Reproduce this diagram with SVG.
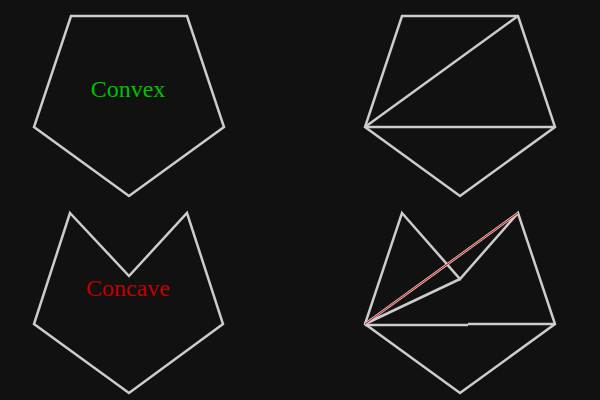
<svg xmlns="http://www.w3.org/2000/svg" width="600" height="400" viewBox="0 0 600 400">
<style>
.e{fill:none;stroke:#cccccc;stroke-width:2.5;stroke-linejoin:miter}
.t{font-family:"Liberation Serif",serif;font-size:24px;text-anchor:middle}
</style>
<rect width="600" height="400" fill="#111111"/>
<g id="convex">
<polygon class="e" points="71,16 187,16 224,127 129,196 34,127"/>
<text class="t" x="128" y="97" fill="#00c000">Convex</text>
</g>
<g id="concave">
<polygon class="e" points="70,213 129,276 187,213 223,324 129,393 34,324"/>
<text class="t" x="128" y="296" fill="#c00000">Concave</text>
</g>
<g id="convex-triangulated">
<polygon class="e" points="402,16 518,16 555,127 460,196 365,127"/>
<line class="e" x1="365" y1="127" x2="518" y2="16"/>
<line class="e" x1="365" y1="127" x2="555" y2="127"/>
</g>
<g id="concave-triangulated">
<polygon class="e" points="402,213 460,279 518,213 555,324 460,393 365,324"/>
<line class="e" x1="365" y1="324" x2="460" y2="279"/>
<line class="e" x1="365" y1="325" x2="468" y2="325"/>
<line class="e" x1="468" y1="324" x2="555" y2="324"/>
<line class="e" x1="365" y1="324" x2="518" y2="213"/>
<line x1="365" y1="324" x2="518" y2="213" stroke="#e00000" stroke-width="1"/>
</g>
</svg>
